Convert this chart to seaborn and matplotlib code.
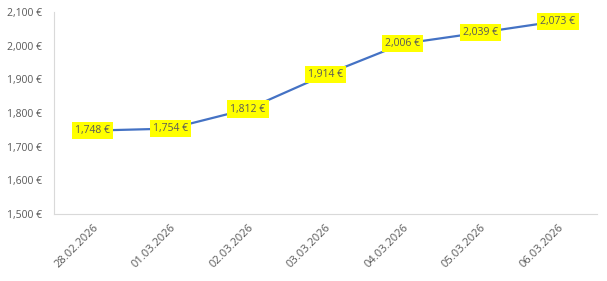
import matplotlib
matplotlib.use("Agg")
import matplotlib.pyplot as plt
import seaborn as sns
import pandas as pd
import numpy as np
from matplotlib.transforms import ScaledTranslation

dates = ["28.02.2026", "01.03.2026", "02.03.2026", "03.03.2026",
         "04.03.2026", "05.03.2026", "06.03.2026"]
values = [1748, 1754, 1812, 1914, 2006, 2039, 2073]
y_ticks = [1500, 1600, 1700, 1800, 1900, 2000, 2100]

sns.set_theme(style="white")
plt.rcParams['font.family'] = ['Open Sans', 'DejaVu Sans']

df = pd.DataFrame({"pos": np.arange(len(dates)), "value": values})

fig = plt.figure(figsize=(6.07, 2.81), dpi=100)
ax = fig.add_axes([0.089, 0.238, 0.894, 0.719])
sns.lineplot(data=df, x="pos", y="value", ax=ax, color="#4472C4", linewidth=1.6)

grey = "#595959"
for x, v in zip(df["pos"], values):
    ax.text(x, v, f"{v:,} €", ha="center", va="center", fontsize=7.5, color=grey,
            bbox=dict(boxstyle="square,pad=0.3", facecolor="#FFFF00", edgecolor="none"))

ax.set_xlim(-0.5, len(dates) - 0.5)
ax.set_ylim(1500, 2100)
ax.set_yticks(y_ticks)
ax.set_yticklabels([f"{t:,} €" for t in y_ticks], fontsize=7.5, color=grey)
ax.set_xticks(np.arange(len(dates)))
ax.set_xticklabels(dates, rotation=45, ha="right", rotation_mode="anchor", fontsize=8, color=grey)
offset = ScaledTranslation(12 / 100, 0, fig.dpi_scale_trans)
for label in ax.get_xticklabels():
    label.set_transform(label.get_transform() + offset)
ax.set_xticks(np.arange(len(dates) + 1) - 0.5, minor=True)
ax.tick_params(axis="x", which="major", length=0, pad=6)
ax.tick_params(axis="x", which="minor", length=4, color="#D9D9D9", width=0.8)
ax.tick_params(axis="y", length=0, pad=9)
ax.set_xlabel("")
ax.set_ylabel("")
for s in ["top", "right"]:
    ax.spines[s].set_visible(False)
for s in ["left", "bottom"]:
    ax.spines[s].set_color("#D9D9D9")
    ax.spines[s].set_linewidth(0.8)
ax.grid(False)

fig.savefig("out.png", dpi=100)
